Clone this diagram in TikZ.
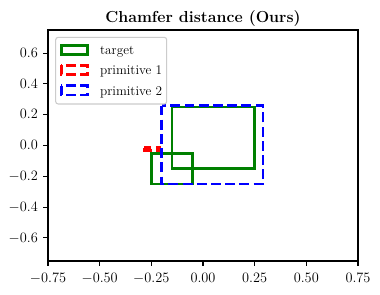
\documentclass[tikz,border=0pt]{standalone}
\usepackage{tikz}
\definecolor{mplgreen}{RGB}{0,128,0}
\definecolor{mplred}{RGB}{255,0,0}
\definecolor{mplblue}{RGB}{0,0,255}
\definecolor{legedge}{gray}{0.8}
\tikzset{
  lbl/.style={inner sep=0pt, font=\fontsize{13.3}{16}\selectfont},
  ttl/.style={inner sep=0pt, font=\fontsize{16}{19}\selectfont\bfseries},
  targetbox/.style={draw=mplgreen, line width=2.67bp},
  prim1box/.style={draw=mplred, line width=2.67bp, dash pattern=on 9.9bp off 4.3bp},
  prim2box/.style={draw=mplblue, line width=2.67bp, dash pattern=on 9.9bp off 4.3bp},
  axisframe/.style={draw=black, line width=1.07bp},
  tickmark/.style={draw=black, line width=1.07bp},
}
\begin{document}
\begin{tikzpicture}[x=1bp, y=-1bp]
\useasboundingbox (0,0) rectangle (380,295);
\fill[white] (0,0) rectangle (380,295);
% title
\node[ttl, anchor=base] (title) at (203,22) {Chamfer distance (Ours)};
% data rectangles (pixel coords)
\draw[targetbox] (172.0,107.0) rectangle (254.7,168.6);
\draw[targetbox] (151.3,153.2) rectangle (192.7,184.0);
\draw[prim1box] (144.3,147.8) rectangle (159.6,150.3);
\draw[prim2box] (161.7,105.5) rectangle (262.9,184.0);
% axes frame
\draw[axisframe] (48,30) rectangle (358,261);
% x ticks
\foreach \xp/\lab [count=\i] in {48/{$-0.75$},99.67/{$-0.50$},151.3/{$-0.25$},203/{$0.00$},254.7/{$0.25$},306.3/{$0.50$},358/{$0.75$}}{
  \draw[tickmark] (\xp,261) -- (\xp,265.7);
  \node[lbl, anchor=base] (xt\i) at (\xp,282.7) {\lab};
}
% y ticks
\foreach \yp/\lab [count=\i] in {53.1/{$0.6$},83.9/{$0.4$},114.7/{$0.2$},145.5/{$0.0$},176.3/{$-0.2$},207.1/{$-0.4$},237.9/{$-0.6$}}{
  \draw[tickmark] (48,\yp) -- (43.3,\yp);
  \node[lbl, anchor=base east] (yt\i) at (38,\yp+4.2) {\lab};
}
% legend
\draw[draw=legedge, fill=white, fill opacity=0.8, line width=1.07bp, rounded corners=2.5bp] (55.7,37.3) rectangle (166.7,104);
\draw[targetbox] (61.3,45.2) rectangle (87.8,54.5);
\draw[prim1box] (61.3,65.2) rectangle (87.8,74.5);
\draw[prim2box] (61.3,85.7) rectangle (87.8,95.0);
\node[lbl, anchor=base west] (l1) at (100,54.3) {target};
\node[lbl, anchor=base west] (l2) at (100,74.8) {primitive 1};
\node[lbl, anchor=base west] (l3) at (100,95.3) {primitive 2};
\end{tikzpicture}
\end{document}
